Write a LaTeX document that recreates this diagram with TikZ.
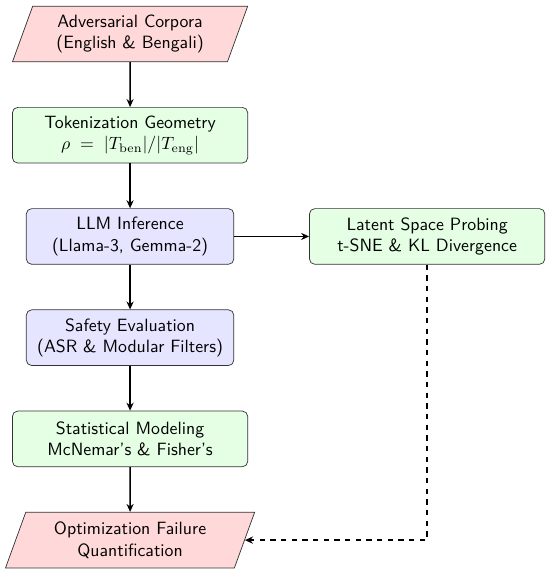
\documentclass[tikz,border=0pt]{standalone}
\usepackage{amsmath}
\usepackage{tikz}
\usetikzlibrary{arrows.meta}
\usetikzlibrary{shapes.geometric}

\begin{document}
\begin{tikzpicture}[
% arrow heads for all connectors
-{Stealth[length=4.5pt,width=4pt]}, thick,
font=\sffamily,
io/.style={trapezium, trapezium left angle=70, trapezium right angle=110,
    draw=black!80, thin, fill=red!15, align=center, minimum height=1.1cm,
    inner xsep=8pt},
process/.style={rectangle, rounded corners=3pt, draw=black!80, thin,
    fill=blue!10, align=center, minimum height=1.1cm, minimum width=4.1cm},
analysis/.style={rectangle, rounded corners=3pt, draw=black!80, thin,
    fill=green!10, align=center, minimum height=1.1cm, minimum width=4.65cm}]
\useasboundingbox (-2.57,0.672) rectangle (8.30,-10.63);
% pipeline nodes
\node[io] (corpora) at (0,0) {Adversarial Corpora\\(English \& Bengali)};
\node[analysis] (tokens) at (0,-2) {Tokenization Geometry\\$\rho\;=\;|T_{\mathrm{ben}}|/|T_{\mathrm{eng}}|$};
\node[process] (infer) at (0,-4) {LLM Inference\\(Llama-3, Gemma-2)};
\node[analysis] (probe) at (5.87,-4) {Latent Space Probing\\t-SNE \& KL Divergence};
\node[process] (safety) at (0,-6) {Safety Evaluation\\(ASR \& Modular Filters)};
\node[analysis] (stats) at (0,-8) {Statistical Modeling\\McNemar's \& Fisher's};
\node[io] (failure) at (0,-10) {Optimization Failure\\Quantification};
% straight arrows
\draw (corpora) -- (tokens);
\draw (tokens) -- (infer);
\draw (infer) -- (safety);
\draw (safety) -- (stats);
\draw (stats) -- (failure);
\draw (infer) -- (probe);
% dashed feedback
\draw[dashed] (probe.south) |- (failure.east);
\end{tikzpicture}
\end{document}
